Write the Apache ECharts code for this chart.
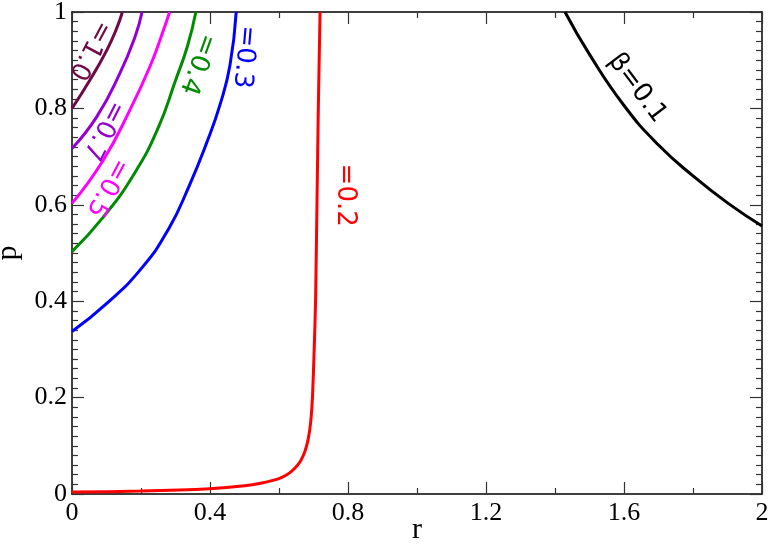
<!DOCTYPE html>
<html>
<head>
<meta charset="utf-8">
<script src="https://cdn.jsdelivr.net/npm/echarts@6/dist/echarts.min.js"></script>
<style>
  html, body { margin: 0; padding: 0; background: #fff; }
  #chart { width: 771px; height: 545px; }
</style>
</head>
<body>
<div id="chart"></div>
<script>
// curves p(r) for each beta as [r, p]
const beta01 = [[1.429, 1.0], [1.5, 0.912], [1.6, 0.806], [1.7, 0.724], [1.8, 0.66], [1.9, 0.604], [2.0, 0.556]];
const beta02 = [[0, 0.004], [0.2, 0.006], [0.4, 0.011], [0.5, 0.017], [0.55, 0.023], [0.6, 0.032], [0.625, 0.041],
  [0.645, 0.053], [0.662, 0.068], [0.675, 0.088], [0.685, 0.115], [0.692, 0.15], [0.697, 0.2], [0.702, 0.3],
  [0.706, 0.4], [0.71, 0.6], [0.714, 0.8], [0.719, 1.0]];
const beta03 = [[0, 0.337], [0.1, 0.395], [0.2, 0.467], [0.28, 0.55], [0.34, 0.64], [0.39, 0.728], [0.43, 0.81],
  [0.458, 0.89], [0.476, 1.0]];
const beta04 = [[0, 0.503], [0.09, 0.574], [0.18, 0.664], [0.25, 0.76], [0.3, 0.858], [0.335, 0.93], [0.359, 1.0]];
const beta05 = [[0, 0.603], [0.09, 0.692], [0.168, 0.797], [0.226, 0.887], [0.262, 0.956], [0.283, 1.0]];
const beta07 = [[0, 0.717], [0.072, 0.783], [0.139, 0.873], [0.183, 0.949], [0.203, 1.0]];
const beta10 = [[0, 0.8], [0.052, 0.859], [0.101, 0.921], [0.13, 0.967], [0.146, 1.0]];

const curveNames = ['β=0.1', '=0.2', '=0.3', '=0.4', '=0.5', '=0.7', '=1.0'];
const curveData = [beta01, beta02, beta03, beta04, beta05, beta07, beta10];
const curveColors = ['#000000', '#ff0000', '#0000ff', '#008b00', '#ff00ff', '#9400d3', '#6e0a46'];

// where each curve label sits [r, p] and its tilt (degrees, clockwise)
const labelPos = [[1.638, 0.842], [0.791, 0.62], [0.499, 0.907], [0.364, 0.892], [0.102, 0.636], [0.091, 0.755], [0.052, 0.921]];
const labelTilt = [53, 90, 95, 110, 118, 117, 118];

const xTicks = [0, 0.4, 0.8, 1.2, 1.6, 2];
const yTicks = [0, 0.2, 0.4, 0.6, 0.8, 1];

const chart = echarts.init(document.getElementById('chart'));

const serif = 'Liberation Serif';

function axisParts(minorSplit) {
  return {
    axisLine: { show: true, onZero: false, lineStyle: { color: '#000', width: 1.5 } },
    axisTick: { show: true, inside: true, length: 12, lineStyle: { color: '#333', width: 1.2 } },
    minorTick: { show: true, splitNumber: minorSplit, length: 6, lineStyle: { color: '#333', width: 1.2 } },
    splitLine: { show: false },
    minorSplitLine: { show: false }
  };
}

const option = {
  animation: false,
  grid: { left: 72, right: 9, top: 12, bottom: 51, containLabel: false, outerBoundsMode: 'none' },
  xAxis: [
    Object.assign({ type: 'value', min: 0, max: 2, interval: 0.4, position: 'bottom' }, axisParts(2), {
      name: 'r', nameLocation: 'middle', nameGap: 21, nameMoveOverlap: false,
      nameTextStyle: { fontFamily: serif, fontSize: 30, color: '#000' },
      axisLabel: {
        fontFamily: serif, fontSize: 26, color: '#000', margin: 6,
        formatter: v => (xTicks.indexOf(+v.toFixed(1)) >= 0 ? String(+v.toFixed(1)) : '')
      }
    }),
    Object.assign({ type: 'value', min: 0, max: 2, interval: 0.4, position: 'top' }, axisParts(2), { axisLabel: { show: false } })
  ],
  yAxis: [
    Object.assign({ type: 'value', min: 0, max: 1, interval: 0.2, position: 'left' }, axisParts(10), {
      name: 'p', nameLocation: 'middle', nameGap: 48,
      nameTextStyle: { fontFamily: serif, fontSize: 30, color: '#000' },
      axisLabel: {
        fontFamily: serif, fontSize: 26, color: '#000', margin: 5,
        formatter: v => (yTicks.indexOf(+v.toFixed(1)) >= 0 ? String(+v.toFixed(1)) : '')
      }
    }),
    Object.assign({ type: 'value', min: 0, max: 1, interval: 0.2, position: 'right' }, axisParts(10), { axisLabel: { show: false } })
  ],
  series: curveData.map((d, i) => ({
    name: curveNames[i],
    type: 'line',
    data: d,
    smooth: i === 1 ? 0.25 : 0.5,
    showSymbol: false,
    symbol: 'none',
    lineStyle: { color: curveColors[i], width: 3 },
    z: 3
  }))
};

chart.setOption(option);

// curve labels, placed through the axes
const labels = labelPos.map((pos, i) => {
  const pt = chart.convertToPixel({ xAxisIndex: 0, yAxisIndex: 0 }, pos);
  return {
    type: 'text',
    x: pt[0], y: pt[1],
    rotation: -labelTilt[i] * Math.PI / 180,
    style: {
      text: curveNames[i],
      fill: curveColors[i],
      font: '26px "DejaVu Sans"',
      align: 'center',
      verticalAlign: 'middle'
    },
    z: 10
  };
});
chart.setOption({ graphic: labels });
</script>
</body>
</html>
